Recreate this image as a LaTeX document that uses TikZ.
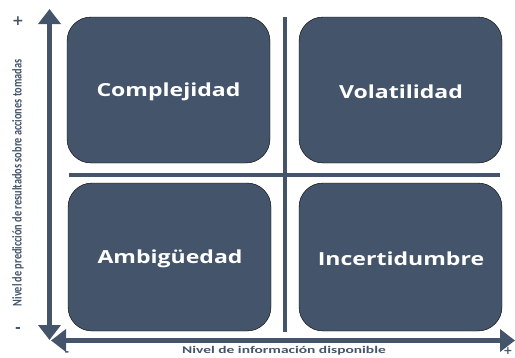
\documentclass[tikz,border=0pt]{standalone}
\usepackage{fontspec}
\setmainfont{Open Sans}
\newfontfamily\axisfont{Carlito}
\newfontfamily\signfont{DejaVu Sans}
\usetikzlibrary{arrows.meta}
\definecolor{slate}{HTML}{44546A}
\begin{document}
\begin{tikzpicture}[x=1pt,y=-1pt,
  quad/.style={fill=slate, rounded corners=24pt},
  qlabel/.style={text=white, xscale=1.28, font=\fontsize{18}{20}\selectfont\bfseries},
  axlabel/.style={text=slate, font=\axisfont\fontsize{10.3}{11}\selectfont\bfseries},
  sign/.style={text=slate, inner sep=0pt, font=\signfont\fontsize{14}{14}\selectfont\bfseries},
  smallsign/.style={text=slate, inner sep=0pt, font=\signfont\fontsize{11}{11}\selectfont\bfseries},
  axisarrow/.style={draw=slate, line width=5.5pt, {Triangle[width=22pt,length=15pt]}-{Triangle[width=22pt,length=15pt]}},
  divider/.style={draw=slate, line width=4pt}]
\useasboundingbox (0,0) rectangle (515,357);
% quadrants
\draw[quad] (67,17) rectangle (270,163);
\draw[quad] (299,17) rectangle (502,163);
\draw[quad] (68,183) rectangle (271,331);
\draw[quad] (299,183) rectangle (502,331);
\node[qlabel] (q1) at (168.5,92) {Complejidad};
\node[qlabel] (q2) at (401,92) {Volatilidad};
\node[qlabel] (q3) at (170,259) {Ambigüedad};
\node[qlabel] (q4) at (401,259) {Incertidumbre};
% dividers
\coordinate (vt) at (284.5,17);
\coordinate (vb) at (284.5,332);
\coordinate (hl) at (69,175);
\coordinate (hr) at (500,175);
\draw[divider] (vt) -- (vb);
\draw[divider] (hl) -- (hr);
% axes
\coordinate (ytop) at (49.5,9);
\coordinate (ybot) at (49.5,340);
\coordinate (xleft) at (51,340.5);
\coordinate (xright) at (515,340.5);
\draw[axisarrow] (ybot) -- (ytop);
\draw[axisarrow, line width=5pt] (xleft) -- (xright);
% labels
\node[axlabel, rotate=90] (ylab) at (18,183) {\scalebox{1}[1.3]{Nivel de predicción de resultados sobre acciones tomadas}};
\node[sign] (yplus) at (18,21) {+};
\node[sign] (yminus) at (18,330) {-};
\node[axlabel, xscale=1.5] (xlab) at (284,351) {Nivel de información disponible};
\node[smallsign] (xminus) at (67,354) {-};
\node[smallsign] (xplus) at (508,351.5) {+};
\end{tikzpicture}
\end{document}
